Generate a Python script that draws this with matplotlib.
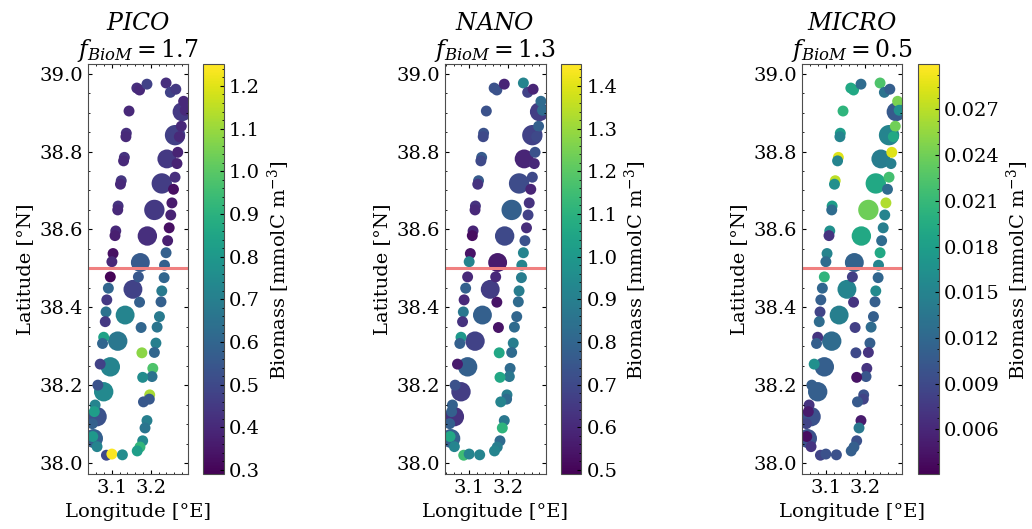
import numpy as np
import matplotlib
matplotlib.use("Agg")
import matplotlib.pyplot as plt
from matplotlib.ticker import MultipleLocator, AutoMinorLocator

plt.rcParams["font.family"] = "serif"
plt.rcParams["font.serif"] = ["DejaVu Serif"]
plt.rcParams["mathtext.fontset"] = "dejavuserif"
plt.rcParams["font.size"] = 14

# station positions: western leg, eastern leg, diagonal transect, middle leg
lon = [3.164, 3.171, 3.190, 3.144, 3.137, 3.136, 3.132, 3.130, 3.124, 3.122, 3.116, 3.115,
       3.110, 3.108, 3.103, 3.100, 3.096, 3.091, 3.087, 3.085, 3.083, 3.079, 3.076, 3.070,
       3.064, 3.057, 3.055, 3.050, 3.051, 3.062, 3.086, 3.100, 3.127,
       3.239, 3.250, 3.264, 3.284, 3.278, 3.273, 3.269, 3.267, 3.262, 3.258, 3.254, 3.251,
       3.247, 3.243, 3.239, 3.235, 3.234, 3.228, 3.226, 3.222, 3.216, 3.213, 3.209, 3.205,
       3.203, 3.197, 3.196, 3.190, 3.185, 3.179, 3.172, 3.165,
       3.280, 3.262, 3.241, 3.228, 3.209, 3.191, 3.173, 3.154, 3.134, 3.115, 3.096, 3.079,
       3.062, 3.053,
       3.168, 3.171, 3.175, 3.177, 3.179, 3.181, 3.288]
lat = [38.963, 38.958, 38.973, 38.904, 38.847, 38.838, 38.785, 38.776, 38.725, 38.716, 38.660, 38.650,
       38.596, 38.584, 38.538, 38.517, 38.478, 38.449, 38.419, 38.388, 38.363, 38.323, 38.307, 38.254,
       38.200, 38.149, 38.132, 38.101, 38.068, 38.042, 38.020, 38.023, 38.021,
       38.976, 38.952, 38.960, 38.929, 38.865, 38.838, 38.798, 38.769, 38.734, 38.703, 38.668, 38.637,
       38.604, 38.571, 38.540, 38.508, 38.476, 38.442, 38.414, 38.376, 38.349, 38.308, 38.284, 38.243,
       38.222, 38.175, 38.164, 38.109, 38.090, 38.057, 38.041, 38.031,
       38.902, 38.842, 38.781, 38.718, 38.650, 38.583, 38.515, 38.446, 38.380, 38.313, 38.247, 38.183,
       38.119, 38.063,
       38.478, 38.413, 38.348, 38.283, 38.220, 38.157, 38.906]
size = [62] * 33 + [62] * 32 + \
       [185, 215, 185, 215, 215, 195, 185, 185, 185, 195, 195, 195, 195, 185] + [62] * 7

pico = [0.42, 0.40, 0.48, 0.40, 0.42, 0.40, 0.43, 0.40, 0.44, 0.40, 0.43, 0.40,
        0.40, 0.37, 0.33, 0.40, 0.30, 0.60, 0.45, 0.65, 0.45, 0.84, 0.60, 0.48,
        0.53, 0.72, 0.82, 0.58, 0.80, 0.72, 0.50, 1.24, 0.75,
        0.42, 0.48, 0.45, 0.40, 0.40, 0.40, 0.38, 0.38, 0.42, 0.33, 0.36, 0.38,
        0.33, 0.37, 0.58, 0.58, 0.60, 0.68, 0.58, 0.68, 0.66, 0.70, 0.60, 0.98,
        0.65, 1.12, 0.55, 0.70, 0.66, 0.74, 0.92, 0.82,
        0.45, 0.47, 0.45, 0.46, 0.45, 0.42, 0.56, 0.48, 0.72, 0.67, 0.72, 0.74,
        0.53, 0.58,
        0.55, 0.58, 0.60, 1.08, 0.75, 0.55, 0.40]
nano = [0.73, 0.73, 0.59, 0.73, 0.73, 0.70, 0.76, 0.70, 0.76, 0.63, 0.63, 0.60,
        0.59, 0.52, 0.54, 0.92, 0.60, 0.78, 0.60, 0.87, 0.63, 1.00, 0.78, 0.56,
        0.73, 0.78, 0.78, 0.78, 1.06, 0.92, 1.15, 0.92, 0.92,
        0.92, 0.68, 0.59, 0.82, 0.78, 0.70, 0.73, 0.60, 0.70, 0.59, 0.63, 0.68,
        0.61, 0.73, 0.92, 0.92, 0.89, 0.89, 0.82, 0.80, 0.82, 0.89, 0.82, 0.82,
        0.87, 0.89, 0.82, 0.87, 1.11, 0.82, 0.89, 0.92,
        0.66, 0.68, 0.59, 0.71, 0.78, 0.70, 0.56, 0.66, 0.78, 0.68, 0.78, 0.66,
        0.63, 0.78,
        0.60, 0.54, 0.54, 1.06, 1.06, 0.92, 0.82]
micro = [0.0191, 0.0191, 0.0124, 0.0204, 0.0178, 0.0151, 0.0285, 0.0151, 0.0271, 0.0164, 0.0178, 0.0124,
         0.0164, 0.0071, 0.0151, 0.0124, 0.0204, 0.0118, 0.0111, 0.0084, 0.0124, 0.0071, 0.0111, 0.0164,
         0.0111, 0.0071, 0.0050, 0.0084, 0.0040, 0.0071, 0.0084, 0.0097, 0.0097,
         0.0223, 0.0132, 0.0111, 0.0244, 0.0240, 0.0191, 0.0285, 0.0145, 0.0218, 0.0124, 0.0266, 0.0151,
         0.0145, 0.0124, 0.0191, 0.0151, 0.0118, 0.0158, 0.0111, 0.0111, 0.0124, 0.0111, 0.0071, 0.0071,
         0.0102, 0.0097, 0.0084, 0.0050, 0.0138, 0.0097, 0.0111, 0.0111,
         0.0105, 0.0151, 0.0143, 0.0191, 0.0239, 0.0191, 0.0115, 0.0151, 0.0145, 0.0124, 0.0111, 0.0111,
         0.0097, 0.0097,
         0.0080, 0.0071, 0.0080, 0.0090, 0.0044, 0.0105, 0.0164]

groups = ["PICO", "NANO", "MICRO"]
f_biom = [1.7, 1.3, 0.5]
biomass = [pico, nano, micro]
clims = [(0.29, 1.245), (0.49, 1.445), (0.00306, 0.0298)]
cticks = [0.1, 0.1, 0.003]

fig = plt.figure(figsize=(10.32, 5.29), dpi=100)
W, H = 1032, 529
ax_left = [87.7, 445.0, 801.7]
cb_left = [203.3, 560.7, 918.0]
bottom, top = 474.3, 64.3

# big transect casts first, the small ones on top
order = list(range(65, 79)) + list(range(0, 65)) + list(range(79, len(lon)))

for i in range(3):
    ax = fig.add_axes([ax_left[i] / W, (H - bottom) / H, 100.6 / W, (bottom - top) / H])
    x = np.array(lon)[order]
    y = np.array(lat)[order]
    s = np.array(size)[order]
    c = np.array(biomass[i])[order]
    sc = ax.scatter(x, y, s=s, c=c, cmap="viridis", vmin=clims[i][0], vmax=clims[i][1],
                    linewidths=0)
    ax.axhline(38.5, color="lightcoral", lw=2.2)
    ax.set_xlim(3.038, 3.296)
    ax.set_ylim(37.971, 39.024)
    ax.xaxis.set_major_locator(MultipleLocator(0.1))
    ax.xaxis.set_minor_locator(MultipleLocator(0.02))
    ax.yaxis.set_major_locator(MultipleLocator(0.2))
    ax.yaxis.set_minor_locator(MultipleLocator(0.05))
    ax.tick_params(which="both", direction="in", top=True, right=True, labelsize=14)
    ax.tick_params(which="major", length=3)
    ax.tick_params(which="minor", length=1.7)
    for sp in ax.spines.values():
        sp.set_color("0.3")
    ax.set_xlabel("Longitude [°E]", fontsize=14)
    ax.set_ylabel("Latitude [°N]", fontsize=14)
    ax.set_title("$%s$\n$f_{BioM} = %.1f$" % (groups[i], f_biom[i]), fontsize=17, pad=5,
                 linespacing=1.1)

    cax = fig.add_axes([cb_left[i] / W, (H - bottom) / H, 20.7 / W, (bottom - top) / H])
    cb = fig.colorbar(sc, cax=cax, extend="max", extendfrac=0.006, extendrect=True)
    cb.locator = MultipleLocator(cticks[i])
    cb.update_ticks()
    cb.ax.yaxis.set_minor_locator(AutoMinorLocator())
    cb.ax.tick_params(which="both", direction="in", labelsize=14)
    cb.ax.tick_params(which="major", length=3)
    cb.ax.tick_params(which="minor", length=1.7)
    cb.outline.set_edgecolor("0.3")
    cb.set_label("Biomass [mmolC m$^{-3}$]", fontsize=14)

fig.savefig("out.png", dpi=100)
